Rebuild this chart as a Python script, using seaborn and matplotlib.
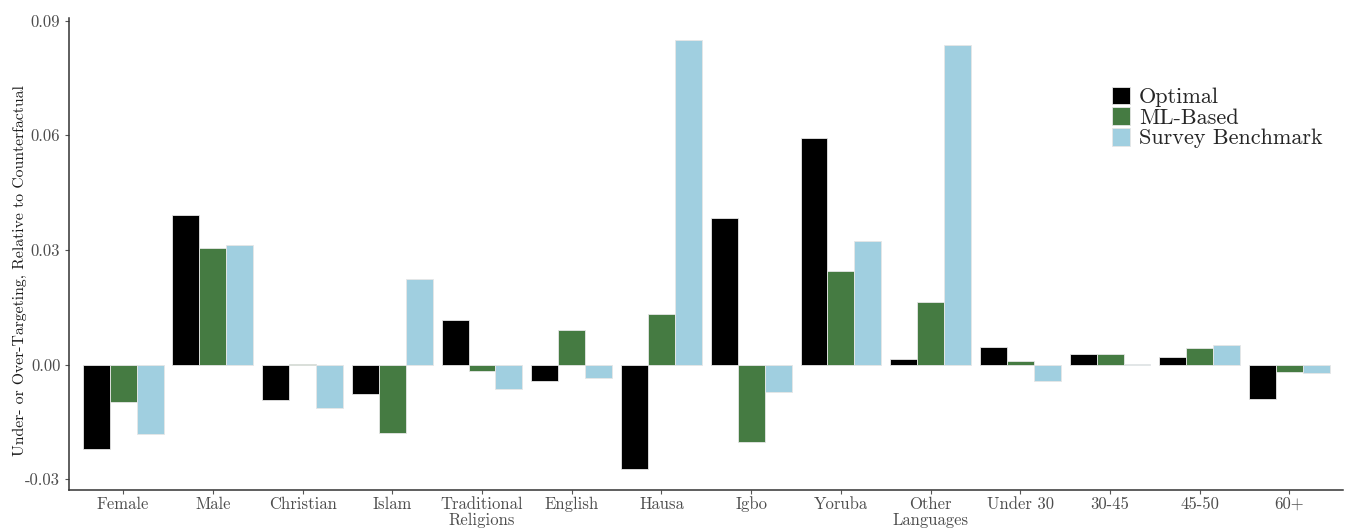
import matplotlib
matplotlib.use("Agg")
import matplotlib.pyplot as plt
import seaborn as sns
import pandas as pd

categories = ["Female", "Male", "Christian", "Islam", "Traditional\nReligions",
              "English", "Hausa", "Igbo", "Yoruba", "Other\nLanguages",
              "Under 30", "30-45", "45-50", "60+"]
optimal = [-0.0220, 0.0392, -0.0093, -0.0078, 0.0117, -0.0043, -0.0273,
           0.0383, 0.0592, 0.0014, 0.0045, 0.0028, 0.0019, -0.0089]
ml_based = [-0.0099, 0.0304, 0.0001, -0.0179, -0.0018, 0.0090, 0.0133,
            -0.0204, 0.0244, 0.0163, 0.0010, 0.0028, 0.0043, -0.0019]
survey = [-0.0182, 0.0312, -0.0114, 0.0225, -0.0065, -0.0035, 0.0850,
          -0.0072, 0.0324, 0.0835, -0.0044, 0.0001, 0.0051, -0.0021]
series_names = ["Optimal", "ML-Based", "Survey Benchmark"]
y_ticks = [-0.03, 0.0, 0.03, 0.06, 0.09]
y_tick_labels = ["-0.03", "0.00", "0.03", "0.06", "0.09"]

colors = ["#000000", "#457B42", "#A0CFE0"]

df = pd.DataFrame({
    "group": categories * 3,
    "series": sum([[s] * len(categories) for s in series_names], []),
    "value": optimal + ml_based + survey,
})

sns.set_theme(style="white")
plt.rcParams["font.family"] = ["cmr10", "DejaVu Serif"]
plt.rcParams["axes.unicode_minus"] = False

fig = plt.figure(figsize=(13.46, 5.29), dpi=100)
ax = fig.add_axes([0.0515, 0.0733, 0.9465, 0.892])

sns.barplot(data=df, x="group", y="value", hue="series", hue_order=series_names,
            order=categories, palette=colors, saturation=1, width=0.9, gap=0,
            edgecolor="#e6e6e6", linewidth=0.6, ax=ax, errorbar=None)

ax.set_xlim(-0.6, 13.6)
ax.set_ylim(-0.0329, 0.0906)
ax.set_yticks(y_ticks)
ax.set_yticklabels(y_tick_labels)
ax.set_xlabel("")
ax.set_ylabel("Under- or Over-Targeting, Relative to Counterfactual",
              fontsize=11.3, color="#1a1a1a")
ax.yaxis.set_label_coords(-0.033, 0.466)

for side in ["top", "right"]:
    ax.spines[side].set_visible(False)
for side in ["left", "bottom"]:
    ax.spines[side].set_color("#333333")
    ax.spines[side].set_linewidth(1.1)

ax.tick_params(axis="both", which="major", length=3, width=0.8,
               color="#555555", labelsize=12, labelcolor="#4d4d4d",
               left=True, bottom=True)
ax.tick_params(axis="x", pad=1.5)
for lab in ax.get_xticklabels():
    lab.set_linespacing(1.05)

ax.get_legend().remove()
handles, labels = ax.get_legend_handles_labels()
fig.legend(handles, labels, loc="upper left", bbox_to_anchor=(0.8265, 0.836),
           frameon=False, fontsize=16, handlelength=0.78, handleheight=0.85,
           handletextpad=0.42, labelspacing=0.0, borderpad=0, borderaxespad=0)

fig.savefig("out.png", dpi=100)
